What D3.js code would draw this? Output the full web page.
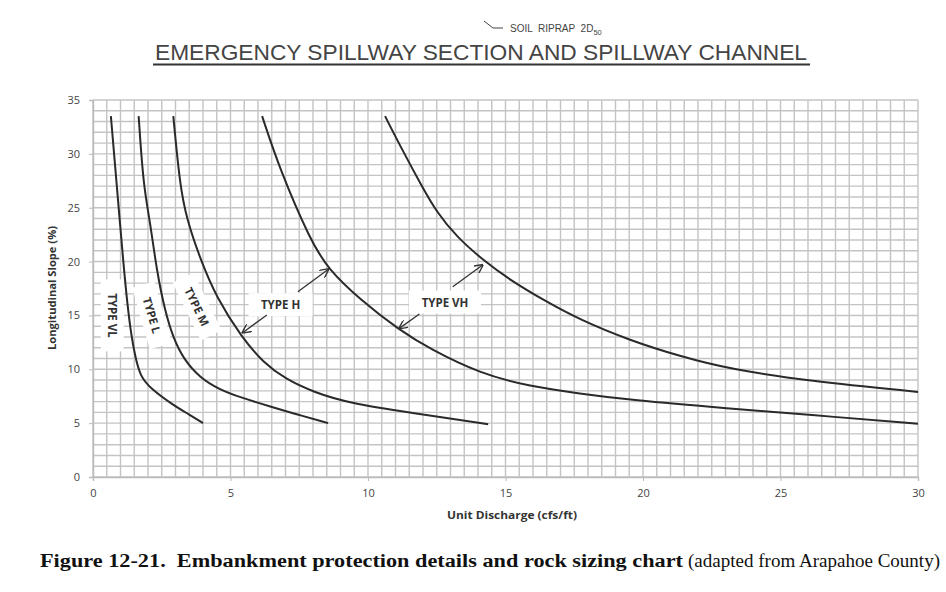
<!DOCTYPE html>
<html>
<head>
<meta charset="utf-8">
<script src="https://cdn.jsdelivr.net/npm/d3@7"></script>
<style>
  body { margin: 0; background: #fff; }
  svg { display: block; }
</style>
</head>
<body>
<div id="chart"></div>
<script>
// curves: unit discharge (cfs/ft) vs longitudinal slope (%)
const typeVL_x = [0.65, 0.8, 0.95, 1.1, 1.25, 1.4, 1.55, 1.72, 2.05, 2.9, 3.5, 4.0];
const typeVL_y = [33.5, 29, 24.5, 20, 16, 13, 11, 9.4, 8.3, 6.7, 5.8, 5.0];
const typeL_x = [1.66, 1.83, 2.07, 2.32, 2.62, 2.92, 3.28, 3.89, 4.62, 5.35, 6.5, 7.5, 8.55];
const typeL_y = [33.5, 27.1, 23.8, 19.1, 15.4, 12.9, 11.0, 9.2, 8.1, 7.4, 6.5, 5.75, 5.0];
const typeM_x = [2.92, 3.16, 3.4, 3.89, 4.5, 5.4, 6.2, 7.0, 8.0, 9.35, 12.25, 14.37];
const typeM_y = [33.5, 27.1, 24, 20.3, 16.6, 13.0, 10.6, 9.1, 7.9, 6.8, 5.7, 4.9];
const typeH_x = [6.15, 6.8, 7.9, 8.55, 9.7, 11.16, 12.25, 14.07, 15.9, 17.7, 19.5, 23.16, 26.1, 30];
const typeH_y = [33.5, 28.5, 22, 19.3, 16.5, 13.6, 11.9, 9.6, 8.4, 7.75, 7.15, 6.35, 5.76, 4.95];
const typeVH_x = [10.62, 11.28, 12.0, 12.5, 13.22, 14.2, 15.16, 16.4, 17.7, 19.5, 21.35, 23.16, 26.1, 30];
const typeVH_y = [33.5, 30.2, 26.8, 24.6, 22.3, 20.1, 18.3, 16.4, 14.6, 12.7, 11.2, 10.0, 8.9, 7.9];

const xTicks = [0, 5, 10, 15, 20, 25, 30];
const yTicks = [0, 5, 10, 15, 20, 25, 30, 35];

// zone labels: [text, x, y, rotation]
const zoneLabels = [
  ["TYPE VL", 0.68, 15.0, 90],
  ["TYPE L", 2.13, 15.0, 74],
  ["TYPE M", 3.77, 15.8, 64],
  ["TYPE H", 6.82, 15.95, 0],
  ["TYPE VH", 12.8, 16.2, 0]
];
// arrows: [x1, y1, x2 (tip), y2 (tip)]
const arrows = [
  [6.32, 15.04, 5.44, 13.4],
  [7.45, 17.2, 8.56, 19.29],
  [11.87, 15.13, 11.14, 13.8],
  [13.08, 17.67, 14.17, 19.68]
];

const W = 946, H = 592;
const margin = { top: 100, right: 28, bottom: 115, left: 93 };
const width = W - margin.left - margin.right;
const height = H - margin.top - margin.bottom;

const svg = d3.select("#chart").append("svg")
  .attr("width", W).attr("height", H)
  .style("background", "#fff");

// heading from the drawing sheet
svg.append("path")
  .attr("d", "M484,21 L493,28 L503,28")
  .attr("fill", "none").attr("stroke", "#444").attr("stroke-width", 1);
const soil = svg.append("text")
  .attr("x", 510).attr("y", 32)
  .attr("font-family", "Liberation Sans, Arial, sans-serif")
  .attr("font-size", 10).attr("fill", "#444")
  .style("white-space", "pre");
soil.append("tspan").text("SOIL  RIPRAP  2D");
soil.append("tspan").attr("font-size", 7.5).attr("dy", 3).text("50");

svg.append("text")
  .attr("x", 155).attr("y", 60)
  .attr("textLength", 652).attr("lengthAdjust", "spacingAndGlyphs")
  .attr("font-family", "Liberation Sans, Arial, sans-serif")
  .attr("font-size", 22).attr("fill", "#444")
  .text("EMERGENCY  SPILLWAY  SECTION  AND  SPILLWAY  CHANNEL");
svg.append("line")
  .attr("x1", 153).attr("x2", 810).attr("y1", 64.5).attr("y2", 64.5)
  .attr("stroke", "#333").attr("stroke-width", 2.2);

const g = svg.append("g").attr("transform", `translate(${margin.left},${margin.top})`);

const x = d3.scaleLinear().domain([0, 30]).range([0, width]);
const y = d3.scaleLinear().domain([0, 35]).range([height, 0]);

// grid: every 0.5 on x, every 1 on y
g.append("g").selectAll("line").data(d3.range(0, 30.01, 0.5)).join("line")
  .attr("x1", d => x(d)).attr("x2", d => x(d))
  .attr("y1", 0).attr("y2", height)
  .attr("stroke", "#c4c4c4").attr("stroke-width", 1.4);
g.append("g").selectAll("line").data(d3.range(0, 35.01, 1)).join("line")
  .attr("x1", 0).attr("x2", width)
  .attr("y1", d => y(d)).attr("y2", d => y(d))
  .attr("stroke", "#c4c4c4").attr("stroke-width", 1.4);

const xAxis = g.append("g").attr("transform", `translate(0,${height})`)
  .call(d3.axisBottom(x).tickValues(xTicks).tickSize(4).tickPadding(8).tickFormat(d3.format("d")));
const yAxis = g.append("g")
  .call(d3.axisLeft(y).tickValues(yTicks).tickSize(4).tickPadding(9).tickFormat(d3.format("d")));
[xAxis, yAxis].forEach(a => {
  a.select(".domain").attr("stroke", "#bbb").attr("stroke-width", 1.4);
  a.selectAll(".tick line").attr("stroke", "#bbb");
  a.selectAll("text").attr("font-family", "Open Sans, sans-serif")
    .attr("font-size", 11).attr("fill", "#444");
});

// white patches behind the zone labels
zoneLabels.forEach(([t, lx, ly, rot]) => {
  const lg = g.append("g")
    .attr("transform", `translate(${x(lx)},${y(ly)}) rotate(${rot})`);
  const wBox = t.length * 8 + 16;
  lg.append("rect")
    .attr("x", -wBox / 2).attr("y", -12)
    .attr("width", wBox).attr("height", 23)
    .attr("fill", "#fff");
});

const line = d3.line().x(d => x(d[0])).y(d => y(d[1])).curve(d3.curveBasis);
const series = [
  [typeVL_x, typeVL_y], [typeL_x, typeL_y], [typeM_x, typeM_y],
  [typeH_x, typeH_y], [typeVH_x, typeVH_y]
];
g.append("g").selectAll("path").data(series).join("path")
  .attr("d", s => line(d3.zip(s[0], s[1])))
  .attr("fill", "none").attr("stroke", "#2a2a2a").attr("stroke-width", 2);

zoneLabels.forEach(([t, lx, ly, rot]) => {
  g.append("text")
    .attr("transform", `translate(${x(lx)},${y(ly)}) rotate(${rot})`)
    .attr("text-anchor", "middle").attr("dy", "0.35em")
    .attr("font-family", "Open Sans, sans-serif").attr("font-weight", "bold")
    .attr("font-size", 11.5).attr("fill", "#333")
    .text(t);
});

svg.append("defs").append("marker")
  .attr("id", "arr").attr("viewBox", "0 0 10 10")
  .attr("refX", 9).attr("refY", 5)
  .attr("markerWidth", 7).attr("markerHeight", 7)
  .attr("orient", "auto")
  .append("path").attr("d", "M0,0 L10,5 L0,10")
  .attr("fill", "none").attr("stroke", "#333").attr("stroke-width", 1.5);

g.append("g").selectAll("line").data(arrows).join("line")
  .attr("x1", d => x(d[0])).attr("y1", d => y(d[1]))
  .attr("x2", d => x(d[2])).attr("y2", d => y(d[3]))
  .attr("stroke", "#333").attr("stroke-width", 1.3)
  .attr("marker-end", "url(#arr)");

// axis titles
svg.append("text")
  .attr("x", 447).attr("y", 519)
  .attr("textLength", 130).attr("lengthAdjust", "spacingAndGlyphs")
  .attr("font-family", "Open Sans, sans-serif").attr("font-weight", "bold")
  .attr("font-size", 10.5).attr("fill", "#333")
  .text("Unit Discharge (cfs/ft)");
svg.append("text")
  .attr("transform", `translate(56,350) rotate(-90)`)
  .attr("textLength", 124).attr("lengthAdjust", "spacingAndGlyphs")
  .attr("font-family", "Open Sans, sans-serif").attr("font-weight", "bold")
  .attr("font-size", 10.5).attr("fill", "#333")
  .text("Longitudinal Slope (%)");

// figure caption
const cap = svg.append("text")
  .attr("x", 40).attr("y", 567)
  .attr("font-family", "Liberation Serif, Times New Roman, serif")
  .attr("font-size", 18).attr("fill", "#111");
cap.append("tspan").attr("font-weight", "bold")
  .attr("textLength", 643).attr("lengthAdjust", "spacingAndGlyphs")
  .text("Figure 12-21.\u00a0 Embankment protection details and rock sizing chart");
cap.append("tspan").attr("x", 688)
  .attr("textLength", 252).attr("lengthAdjust", "spacingAndGlyphs")
  .text("(adapted from Arapahoe County)");
</script>
</body>
</html>
